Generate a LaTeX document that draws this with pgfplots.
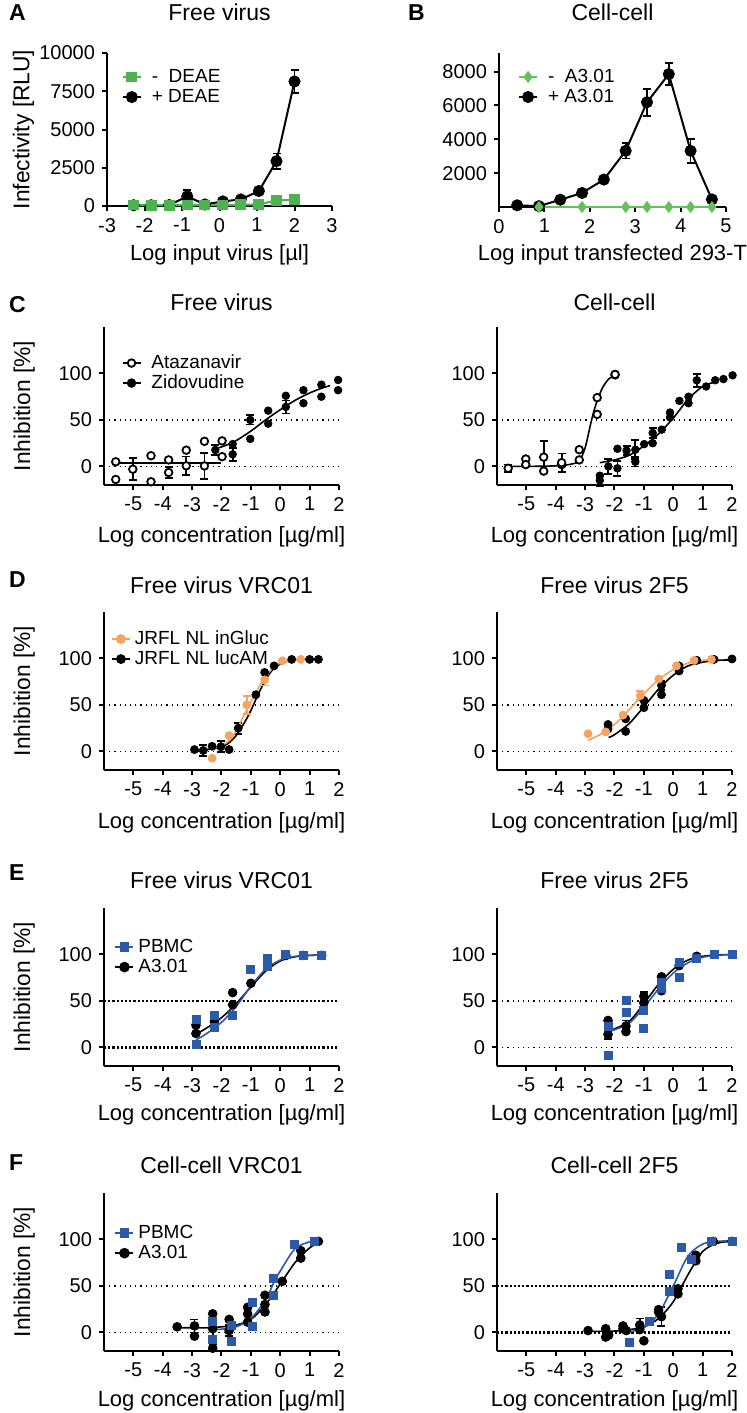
\documentclass[border=0pt]{standalone}
\usepackage{pgfplots}
\pgfplotsset{compat=1.18}
\usepackage{fontspec}
\setmainfont{Liberation Sans}
\definecolor{gA}{RGB}{77,178,80}
\definecolor{gB}{RGB}{100,192,90}
\definecolor{orng}{RGB}{244,164,96}
\definecolor{blu}{RGB}{43,91,168}
\pgfplotsset{
  gp/.style={
    scale only axis, clip=false,
    axis lines=left,
    axis line style={-, line width=1pt},
    tick align=outside,
    major tick length=2.5pt,
    tick style={line width=1pt, black},
    tick label style={font=\fontsize{10}{12}\selectfont},
    scaled y ticks=false, scaled x ticks=false,
    /pgf/number format/assume math mode=true,
    /pgf/number format/1000 sep={},
    title style={font=\fontsize{11.5}{13}\selectfont, at={(0.5,1)}, anchor=base},
    xlabel style={font=\fontsize{11}{13}\selectfont, at={(0.5,0)}, anchor=base, yshift=-27.5pt},
    ylabel style={font=\fontsize{11.4}{13}\selectfont, anchor=center},
    legend style={draw=none, fill=none, font=\fontsize{9.5}{10}\selectfont, anchor=north west, inner sep=0pt, outer sep=0pt, row sep=0pt, nodes={inner sep=0.5pt, text height=7pt, text depth=2pt}},
    legend cell align=left,
    legend image code/.code={\draw[mark repeat=2,mark phase=2,##1] plot coordinates {(0pt,0pt)(4.5pt,0pt)(9pt,0pt)};},
  },
  wide gap/.style={legend style={/tikz/every odd column/.append style={column sep=4.5pt}}},
  small gap/.style={legend style={/tikz/every odd column/.append style={column sep=1.5pt}}},
  inh/.style={gp, width=117.5pt, height=79pt, xmin=-6, xmax=2, ymin=-20, ymax=150, xtick={-5,...,2}, ytick={0,50,100},
    xlabel={Log concentration [µg/ml]}},
  pt/.style={forget plot, only marks},
  cv/.style={forget plot, no marks, smooth, line width=0.8pt},
  dl/.style={forget plot, no marks, black, dotted, line width=0.6pt},
  dlt/.style={forget plot, no marks, black, densely dotted, line width=1.1pt},
  eb/.style={error bars/.cd, y dir=both, y explicit, error bar style={line width=0.9pt}, error mark options={rotate=90, mark size=2pt, line width=0.9pt}},
}
\begin{document}
\begin{tikzpicture}
\path[use as bounding box] (0pt,0pt) rectangle (373pt,-706.5pt);
\tikzset{plab/.style={anchor=base west, font=\bfseries\fontsize{11.5}{13}\selectfont}}
\node[plab] at (1pt,-10.5pt) {A};
\node[plab] at (200.5pt,-10.5pt) {B};
\node[plab] at (1pt,-156pt) {C};
\node[plab] at (1pt,-293.5pt) {D};
\node[plab] at (1pt,-440pt) {E};
\node[plab] at (1pt,-585pt) {F};

% ---------------- A
\begin{axis}[gp, wide gap, at={(53.5pt,-26.5pt)}, anchor=north west, width=112.5pt, height=76.5pt,
  xmin=-3, xmax=3, ymin=0, ymax=10000, xtick={-3,...,3}, ytick={0,2500,5000,7500,10000},
  title={Free virus}, title style={yshift=10pt},
  xlabel={Log input virus [µl]}, xlabel style={yshift=0.5pt},
  ylabel={Infectivity [RLU]}, ylabel style={at={(-0.371,0.5)}},
  legend style={at={(0.066,0.908)}}]
\addlegendimage{gA, mark=square*, mark size=2.2pt, line width=1pt}
\addlegendentry{-\ \ DEAE}
\addlegendimage{black, mark=*, mark size=2.5pt, line width=1pt}
\addlegendentry{+ DEAE}
\addplot[black, forget plot, mark=*, mark size=2.5pt, line width=1pt] coordinates {(-2.29,50)(-1.82,50)(-1.34,60)(-0.86,630)(-0.39,100)(0.09,300)(0.57,430)(1.05,980)(1.52,2930)(2.00,8140)};
\addplot[black, pt, mark=*, mark size=2.5pt, eb] coordinates {(-0.86,630) +- (0,400) (1.52,2930) +- (0,500) (2.00,8140) +- (0,750)};
\addplot[gA, forget plot, mark=square*, mark size=2.2pt, line width=1pt] coordinates {(-2.29,60)(-1.82,50)(-1.34,50)(-0.86,60)(-0.39,60)(0.09,60)(0.57,80)(1.05,100)(1.52,370)(2.00,400)};
\end{axis}

% ---------------- B
\begin{axis}[gp, wide gap, at={(249.5pt,-26.5pt)}, anchor=north west, width=113.5pt, height=77pt,
  xmin=0, xmax=5, ymin=0, ymax=9100, xtick={0,...,5}, ytick={2000,4000,6000,8000},
  title={Cell-cell}, title style={yshift=10pt},
  xlabel={Log input transfected 293-T}, xlabel style={yshift=0.5pt},
  legend style={at={(0.084,0.909)}}]
\addlegendimage{gB, mark=diamond*, mark size=2.4pt, line width=0.8pt}
\addlegendentry{-\ \ A3.01}
\addlegendimage{black, mark=*, mark size=2.5pt, line width=1pt}
\addlegendentry{+ A3.01}
\addplot[black, forget plot, mark=*, mark size=2.5pt, line width=1pt] coordinates {(0.40,100)(0.88,50)(1.35,430)(1.83,830)(2.31,1620)(2.79,3320)(3.26,6190)(3.74,7850)(4.22,3320)(4.69,450)};
\addplot[black, pt, mark=*, mark size=2.5pt, eb] coordinates {(2.79,3320) +- (0,450) (3.26,6190) +- (0,800) (3.74,7850) +- (0,650) (4.22,3320) +- (0,700)};
\addplot[gB, forget plot, mark=diamond*, mark size=2.4pt, line width=0.8pt] coordinates {(0.88,0)(1.83,0)(2.79,0)(3.26,0)(3.74,0)(4.22,0)(4.69,0)};
\end{axis}

% ---------------- C left
\begin{axis}[inh, wide gap, at={(52pt,-163.5pt)}, anchor=north west,
  title={Free virus}, title style={yshift=2.5pt}, xlabel style={yshift=-1pt},
  ylabel={Inhibition [\%]}, ylabel style={at={(-0.34,0.5)}},
  legend style={at={(0.075,0.835)}}]
\addlegendimage{black, mark=*, mark options={fill=white}, mark size=1.9pt, line width=0.9pt}
\addlegendentry{Atazanavir}
\addlegendimage{black, mark=*, mark size=1.9pt, line width=0.9pt}
\addlegendentry{Zidovudine}
\addplot[dl] coordinates {(-6,50)(2,50)};
\addplot[dl] coordinates {(-6,0)(2,0)};
\addplot[black, cv] coordinates {(-5.6,3.6)(-2.0,3.6)};
\addplot[black, cv] coordinates {(-2.1,20)(-1.6,26)(-1.0,38)(-0.5,50)(0,61)(0.5,71)(1,79)(1.4,84)(1.7,87)};
\addplot[black, pt, mark=*, mark size=1.9pt, mark options={fill=white, line width=0.9pt}] coordinates {(-5.6,5)(-5.6,-14)(-4.4,11.5)(-4.4,-16.5)(-3.8,7)(-3.2,17.5)(-2.58,27)(-1.98,27.5)(-1.98,10.5)};
\addplot[black, pt, mark=*, mark size=1.9pt, mark options={fill=white, line width=0.9pt}, eb] coordinates {(-5.02,-3) +- (0,12) (-3.8,-6.5) +- (0,6) (-3.2,0.7) +- (0,10) (-2.58,0.5) +- (0,14)};
\addplot[black, pt, mark=*, mark size=1.9pt] coordinates {(-1.62,24)(-1.02,29.6)(-0.41,60)(-0.41,46)(0.19,76)(0.79,82)(0.79,68)(1.4,88)(1.4,75)(1.97,93)(1.97,82)};
\addplot[black, pt, mark=*, mark size=1.9pt, eb] coordinates {(-2.21,17.7) +- (0,5) (-1.62,13) +- (0,7) (-1.02,50) +- (0,5) (0.19,64) +- (0,7)};
\end{axis}

% ---------------- C right
\begin{axis}[inh, at={(248.5pt,-163.5pt)}, anchor=north west,
  title={Cell-cell}, title style={yshift=2.5pt}, xlabel style={yshift=-1pt}]
\addplot[dl] coordinates {(-6,50)(2,50)};
\addplot[dl] coordinates {(-6,0)(2,0)};
\addplot[black, cv] coordinates {(-5.6,0)(-4.5,0.2)(-3.8,1)(-3.4,3)(-3.2,6)(-3.0,20)(-2.78,50)(-2.6,70)(-2.4,85)(-2.2,94)(-2.0,97.5)};
\addplot[black, cv] coordinates {(-2.5,4)(-2,7)(-1.5,12)(-1,22)(-0.5,35)(0,52)(0.5,72)(1,86)(1.45,91)};
\addplot[black, pt, mark=*, mark size=1.9pt, mark options={fill=white, line width=0.9pt}] coordinates {(-5.02,8)(-5.02,2)(-4.41,-5)(-3.8,2)(-3.2,18)(-3.2,7)(-2.59,74)(-2.59,56)(-1.98,98.5)(-1.98,99)};
\addplot[black, pt, mark=*, mark size=1.9pt, mark options={fill=white, line width=0.9pt}, eb] coordinates {(-5.62,-2) +- (0,4) (-4.41,10) +- (0,17) (-3.8,4) +- (0,10)};
\addplot[black, pt, mark=*, mark size=1.9pt] coordinates {(-2.5,-10)(-1.9,19)(-0.99,24)(-0.7,25)(-0.39,39.6)(-0.11,58)(-0.11,52.7)(0.21,70.5)(0.52,75)(0.52,68)(1.12,86)(1.43,92.7)(1.71,94)(2.02,98)};
\addplot[black, pt, mark=*, mark size=1.9pt, eb] coordinates {(-2.5,-15) +- (0,6) (-2.21,0) +- (0,8) (-1.9,-2) +- (0,8) (-1.59,17) +- (0,5) (-1.29,18) +- (0,10) (-1.29,5) +- (0,5) (-0.7,36) +- (0,5) (0.8,92.7) +- (0,7)};
\end{axis}

% ---------------- D left
\begin{axis}[inh, small gap, at={(52pt,-306pt)}, anchor=north west,
  title={Free virus VRC01}, title style={yshift=3.5pt}, xlabel style={yshift=-1.5pt},
  ylabel={Inhibition [\%]}, ylabel style={at={(-0.34,0.5)}},
  legend style={at={(0.030,0.892)}}]
\addlegendimage{orng, mark=*, mark size=2pt, line width=0.9pt}
\addlegendentry{JRFL NL inGluc}
\addlegendimage{black, mark=*, mark size=2pt, line width=0.9pt}
\addlegendentry{JRFL NL lucAM}
\addplot[dl] coordinates {(-6,50)(2,50)};
\addplot[dl] coordinates {(-6,0)(2,0)};
\addplot[black, cv] coordinates {(-2.9,1)(-2.5,2)(-2.1,4)(-1.8,8)(-1.5,17)(-1.2,32)(-1.0,44)(-0.8,58)(-0.6,71)(-0.4,82)(-0.2,90)(0,94)(0.3,97.5)(0.7,99)(1.3,99.5)};
\addplot[black, pt, mark=*, mark size=2pt] coordinates {(-2.92,2)(-2.32,5.5)(-1.74,2)(-0.83,61)(-0.53,85)(-0.21,92)(0.39,99)(1.0,99)(1.3,99)};
\addplot[black, pt, mark=*, mark size=2pt, eb] coordinates {(-2.62,1) +- (0,6) (-2.02,5) +- (0,6) (-1.43,25) +- (0,6)};
\addplot[orng, cv] coordinates {(-2.32,3)(-2,6)(-1.74,12)(-1.5,22)(-1.14,45)(-0.83,63)(-0.53,80)(-0.2,91)(0.07,96)(0.7,99)};
\addplot[orng, pt, mark=*, mark size=2pt] coordinates {(-2.32,-7.3)(-1.74,17)(0.07,97.5)(0.70,99)};
\addplot[orng, pt, mark=*, mark size=2pt, eb] coordinates {(-1.14,50) +- (0,10) (-0.53,77) +- (0,6)};
\end{axis}

% ---------------- D right
\begin{axis}[inh, at={(248.5pt,-306pt)}, anchor=north west,
  title={Free virus 2F5}, title style={yshift=3.5pt}, xlabel style={yshift=-1.5pt}]
\addplot[dl] coordinates {(-6,50)(2,50)};
\addplot[dl] coordinates {(-6,0)(2,0)};
\addplot[black, cv] coordinates {(-2.2,15)(-2,18)(-1.5,30)(-1,48)(-0.5,67)(0,82)(0.5,92)(1,96)(1.5,98)(2,98.5)};
\addplot[black, pt, mark=*, mark size=2pt] coordinates {(-2.22,29)(-2.22,24)(-1.62,35)(-1.62,21.5)(-1.0,55)(-1.0,47)(-0.4,61)(0.2,86.5)(0.2,92)(0.8,98)(1.39,99)(2.0,99.5)};
\addplot[black, pt, mark=*, mark size=2pt, eb] coordinates {(-0.4,71) +- (0,5)};
\addplot[orng, cv] coordinates {(-2.9,12)(-2.5,18)(-2,29)(-1.5,45)(-1,62)(-0.5,77)(0,88)(0.5,95)(1,98)(1.3,98.5)};
\addplot[orng, pt, mark=*, mark size=2pt] coordinates {(-2.9,19)(-2.3,21)(-1.71,39)(-0.49,78)(0.11,92)(0.71,98)(1.3,99)};
\addplot[orng, pt, mark=*, mark size=2pt, eb] coordinates {(-1.12,60) +- (0,5)};
\end{axis}

% ---------------- E left
\begin{axis}[inh, small gap, at={(52pt,-454pt)}, anchor=north west,
  title={Free virus VRC01}, title style={yshift=4pt}, xlabel style={yshift=0.5pt},
  ylabel={Inhibition [\%]}, ylabel style={at={(-0.34,0.5)}},
  legend style={at={(0.045,0.816)}}]
\addlegendimage{blu, mark=square*, mark size=2pt, line width=0.9pt}
\addlegendentry{PBMC}
\addlegendimage{black, mark=*, mark size=2.2pt, line width=0.9pt}
\addlegendentry{A3.01}
\addplot[dlt] coordinates {(-6,50)(2,50)};
\addplot[dlt] coordinates {(-6,0)(2,0)};
\addplot[black, cv] coordinates {(-2.87,14)(-2.5,21)(-2,32)(-1.5,47)(-1,65)(-0.5,82)(0,93)(0.5,97.5)(1,99)(1.41,99.5)};
\addplot[black, pt, mark=*, mark size=2.2pt] coordinates {(-2.87,15)(-2.87,24)(-2.24,28)(-1.62,59)(-1.62,46)(-1.0,69)(-0.43,90)(0.19,99)(0.79,99)(1.41,99)};
\addplot[blu, cv] coordinates {(-2.87,8)(-2.5,15)(-2,27)(-1.5,44)(-1,66)(-0.5,84)(0,94)(0.5,98)(1,99)(1.41,99.5)};
\addplot[blu, pt, mark=square*, mark size=2pt] coordinates {(-2.87,30.6)(-2.87,3.6)(-2.24,34)(-2.24,22)(-1.62,34)(-1.0,84)(-0.43,96)(-0.43,87)(0.19,100)(0.79,99)(1.41,99)};
\end{axis}

% ---------------- E right
\begin{axis}[inh, at={(248.5pt,-454pt)}, anchor=north west,
  title={Free virus 2F5}, title style={yshift=4pt}, xlabel style={yshift=0.5pt}]
\addplot[dl] coordinates {(-6,50)(2,50)};
\addplot[dl] coordinates {(-6,0)(2,0)};
\addplot[black, cv] coordinates {(-2.2,18)(-2,20)(-1.5,28)(-1,47)(-0.5,68)(0,84)(0.5,94)(1,98)(1.5,99.5)(2,100)};
\addplot[black, pt, mark=*, mark size=2.2pt] coordinates {(-2.22,29)(-1.61,17)(-1.0,48)(-0.4,76)(-0.4,61)(0.2,88)(0.8,98)};
\addplot[black, pt, mark=*, mark size=2.2pt, eb] coordinates {(-2.22,14) +- (0,5) (-1.61,23) +- (0,6) (-1.0,55) +- (0,5)};
\addplot[blu, cv] coordinates {(-2.2,17)(-2,19)(-1.5,26)(-1,43)(-0.5,63)(0,80)(0.5,91)(1,97)(1.5,99)(2,100)};
\addplot[blu, pt, mark=square*, mark size=2pt] coordinates {(-2.22,23)(-2.22,-8.3)(-1.61,51)(-1.61,38)(-1.0,40)(-1.0,20)(-0.4,70)(-0.4,63)(0.2,91)(0.2,75)(0.8,96)(1.4,100)(2.0,100)};
\end{axis}

% ---------------- F left
\begin{axis}[inh, small gap, at={(52pt,-596.5pt)}, anchor=north west,
  title={Cell-cell VRC01}, title style={yshift=4pt}, xlabel style={yshift=0pt},
  ylabel={Inhibition [\%]}, ylabel style={at={(-0.34,0.5)}},
  legend style={at={(0.045,0.809)}}]
\addlegendimage{blu, mark=square*, mark size=2pt, line width=0.9pt}
\addlegendentry{PBMC}
\addlegendimage{black, mark=*, mark size=2.2pt, line width=0.9pt}
\addlegendentry{A3.01}
\addplot[dl] coordinates {(-6,50)(2,50)};
\addplot[dl] coordinates {(-6,0)(2,0)};
\addplot[black, cv] coordinates {(-3.5,5)(-3,5)(-2.5,5)(-2,6)(-1.5,8)(-1,14)(-0.5,30)(0,52)(0.5,75)(1,91)(1.3,96)};
\addplot[black, pt, mark=*, mark size=2.2pt] coordinates {(-3.51,6)(-2.92,-4)(-2.3,20)(-2.3,-17)(-1.74,14)(-1.11,27)(-1.11,20)(-1.11,11)(-0.52,40)(-0.52,30)(-0.52,22)(0.07,55)(0.7,88)(0.7,80)(1.3,98)};
\addplot[black, pt, mark=*, mark size=2.2pt, eb] coordinates {(-2.92,7) +- (0,7) (-2.3,4) +- (0,17) (-1.74,2) +- (0,6)};
\addplot[blu, cv] coordinates {(-2.3,3)(-2,3.5)(-1.5,6)(-1,15)(-0.5,35)(-0.2,55)(0,66)(0.5,90)(1,97.5)(1.2,98)};
\addplot[blu, pt, mark=square*, mark size=2pt] coordinates {(-2.3,12)(-2.3,-8)(-1.66,7.6)(-1.66,-9.8)(-0.94,32)(-0.94,6.5)(-0.24,58)(-0.24,40)(0.47,95)(1.15,98)};
\end{axis}

% ---------------- F right
\begin{axis}[inh, at={(248.5pt,-596.5pt)}, anchor=north west,
  title={Cell-cell 2F5}, title style={yshift=4pt}, xlabel style={yshift=0pt}]
\addplot[dlt] coordinates {(-6,50)(2,50)};
\addplot[dlt] coordinates {(-6,0)(2,0)};
\addplot[black, cv] coordinates {(-2.9,1)(-2,1.5)(-1.5,3)(-1,6)(-0.5,15)(0,33)(0.5,62)(1,87)(1.5,96)(2,98)};
\addplot[black, pt, mark=*, mark size=2.2pt] coordinates {(-2.9,2)(-2.3,4)(-2.3,-5)(-2.2,-3)(-1.71,7)(-1.71,4)(-1.6,2)(-1.14,3)(-1.0,-9)(-0.5,24.5)(-0.5,22)(0.16,47)(0.16,41.5)(0.77,83)(0.77,77)(1.36,98)(2.0,98)};
\addplot[black, pt, mark=*, mark size=2.2pt, eb] coordinates {(-1.14,8) +- (0,7) (-0.4,17) +- (0,10)};
\addplot[blu, cv] coordinates {(-1.6,0)(-1,5)(-0.5,20)(0,50)(0.5,82)(1,95)(1.5,98)(2,98.5)};
\addplot[blu, pt, mark=square*, mark size=2pt] coordinates {(-1.5,-11)(-0.82,12)(-0.12,62)(-0.12,44)(0.28,92)(0.62,79)(1.3,98)(2.0,98)};
\end{axis}
\end{tikzpicture}
\end{document}
